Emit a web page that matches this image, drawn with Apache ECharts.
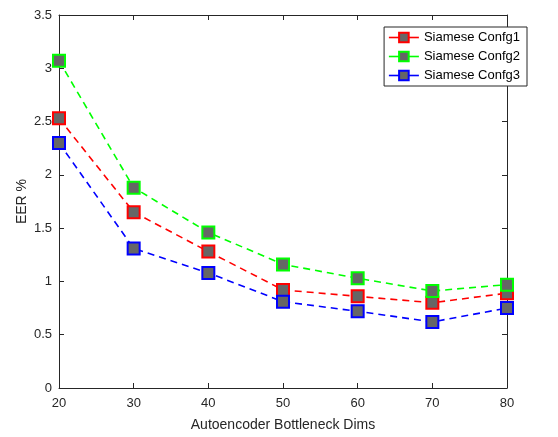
<!DOCTYPE html>
<html><head><meta charset="utf-8">
<script src="https://cdn.jsdelivr.net/npm/echarts@6/dist/echarts.min.js"></script>
<style>html,body{margin:0;padding:0;background:#fff}#c{width:558px;height:437px}</style>
</head><body><div id="c"></div>
<script>
const dims = [20, 30, 40, 50, 60, 70, 80];
const confg1 = [2.53, 1.65, 1.28, 0.92, 0.86, 0.80, 0.89];
const confg2 = [3.07, 1.88, 1.46, 1.16, 1.03, 0.91, 0.97];
const confg3 = [2.30, 1.31, 1.08, 0.81, 0.72, 0.62, 0.75];
const seriesNames = ['Siamese Confg1', 'Siamese Confg2', 'Siamese Confg3'];
const seriesColors = ['#ff0000', '#00ff00', '#0000ff'];
const yTicks = [0, 0.5, 1, 1.5, 2, 2.5, 3, 3.5];

const chart = echarts.init(document.getElementById('c'), null, {renderer: 'canvas'});
const axisCol = '#262626';
const font = 'Liberation Sans, Arial, Helvetica, sans-serif';
const vals = [confg1, confg2, confg3];
const series = vals.map((v, i) => ({
  name: seriesNames[i],
  type: 'line',
  data: dims.map((d, j) => [d, v[j]]),
  symbol: 'rect',
  symbolSize: 12,
  lineStyle: {color: seriesColors[i], width: 1.6, type: [7, 5]},
  itemStyle: {color: '#666666', borderColor: seriesColors[i], borderWidth: 2},
  emphasis: {disabled: true},
  z: 3 + i
}));
const xBase = {
  type: 'value', min: 20, max: 80, interval: 10,
  axisLine: {show: true, onZero: false, lineStyle: {color: axisCol, width: 1}},
  axisTick: {show: true, inside: true, length: 5, lineStyle: {color: axisCol}},
  splitLine: {show: false}
};
const yBase = {
  type: 'value', min: 0, max: 3.5, interval: 0.5,
  axisLine: {show: true, onZero: false, lineStyle: {color: axisCol, width: 1}},
  axisTick: {show: true, inside: true, length: 5, lineStyle: {color: axisCol}},
  splitLine: {show: false}
};
chart.setOption({
  animation: false,
  backgroundColor: '#ffffff',
  textStyle: {fontFamily: font},
  grid: {left: 59, right: 51, top: 15, bottom: 47, containLabel: false},
  legend: {
    data: seriesNames,
    orient: 'vertical',
    right: 31, top: 27,
    itemWidth: 30, itemHeight: 12, itemGap: 6,
    padding: [4, 7, 4, 4],
    backgroundColor: '#ffffff',
    borderColor: axisCol, borderWidth: 1, borderRadius: 0,
    lineStyle: {type: 'solid', width: 1.6},
    textStyle: {fontSize: 13, color: '#000', fontFamily: font}
  },
  xAxis: [
    Object.assign({}, xBase, {
      position: 'bottom',
      name: 'Autoencoder Bottleneck Dims', nameLocation: 'middle', nameGap: 30,
      nameMoveOverlap: false,
      nameTextStyle: {fontSize: 14, color: axisCol, fontFamily: font},
      axisLabel: {fontSize: 13, color: axisCol, margin: 9, fontFamily: font}
    }),
    Object.assign({}, xBase, {position: 'top', axisLabel: {show: false}})
  ],
  yAxis: [
    Object.assign({}, yBase, {
      position: 'left',
      name: 'EER %', nameLocation: 'middle', nameGap: 30,
      nameMoveOverlap: false,
      nameTextStyle: {fontSize: 14, color: axisCol, fontFamily: font},
      axisLabel: {fontSize: 13, color: axisCol, margin: 7, fontFamily: font,
        formatter: v => yTicks.includes(v) ? String(v) : ''}
    }),
    Object.assign({}, yBase, {position: 'right', axisLabel: {show: false}})
  ],
  series: series
});
</script></body></html>
